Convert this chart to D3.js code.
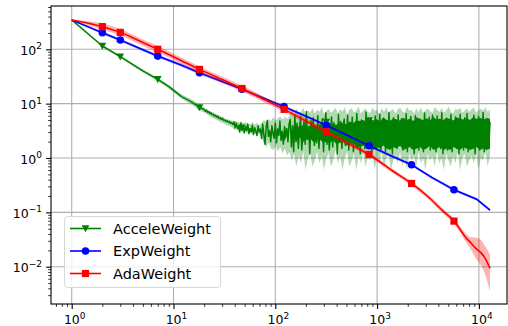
<!DOCTYPE html>
<html>
<head>
<meta charset="utf-8">
<script src="https://cdn.jsdelivr.net/npm/d3@7"></script>
<style>
  body { margin: 0; background: #fff; }
  svg { font-family: "DejaVu Sans", sans-serif; }
</style>
</head>
<body>
<svg id="chart" width="508" height="326"></svg>
<script>
// ---- data ----
const seriesNames = ['AcceleWeight', 'ExpWeight', 'AdaWeight'];
const markX = [2, 3, 7, 18, 47, 122, 317, 833, 2180, 5690];

// ExpWeight
const expX  = [1, 2, 3, 5, 7, 12, 18, 30, 47, 75, 122, 200, 317, 500, 833, 1440, 2180, 3440, 5690, 9500, 12850];
const expY  = [347, 202, 148, 98, 75, 51, 37, 25.5, 18.5, 12.8, 8.8, 5.85, 4.0, 2.65, 1.68, 1.05, 0.75, 0.44, 0.26, 0.175, 0.11];
const expLo = [347, 190, 139, 92, 70, 47.5, 34.5, 24, 17.4, 11.9, 8.3, 5.55, 3.77, 2.5, 1.59, 0.99, 0.71, 0.41, 0.245, 0.165, 0.104];
const expHi = [347, 214, 157, 104, 80, 54.5, 39.5, 27, 19.6, 13.6, 9.3, 6.2, 4.23, 2.8, 1.78, 1.11, 0.79, 0.465, 0.275, 0.185, 0.116];

// AdaWeight
const adaX  = [1, 2, 3, 5, 7, 12, 18, 30, 47, 75, 122, 200, 317, 500, 833, 1440, 2180, 3310, 4470, 5690, 6500, 7400, 8300, 9500, 10500, 11500, 12850];
const adaY  = [347, 261, 205, 133, 100, 61.5, 42.7, 27.7, 19, 12.3, 7.85, 4.8, 3.04, 1.94, 1.16, 0.57, 0.34, 0.18, 0.104, 0.069, 0.049, 0.035, 0.0277, 0.021, 0.018, 0.0144, 0.0093];
const adaLo = [347, 228, 180, 116, 87, 54, 37.5, 24.3, 16.8, 10.9, 7.0, 4.3, 2.75, 1.76, 1.06, 0.52, 0.31, 0.163, 0.094, 0.062, 0.043, 0.029, 0.021, 0.0135, 0.0105, 0.0072, 0.0035];
const adaHi = [347, 298, 234, 152, 115, 70, 48.5, 31.5, 21.5, 13.9, 8.8, 5.4, 3.36, 2.14, 1.27, 0.62, 0.37, 0.198, 0.115, 0.077, 0.056, 0.041, 0.035, 0.034, 0.031, 0.024, 0.017];

// AcceleWeight: smooth head, then a noisy tail sampled evenly on log x
const accHeadX  = [1, 2, 3, 4, 5, 7, 9, 12, 15, 18];
const accHeadY  = [347, 115, 73, 52, 40, 28, 20.5, 13.5, 10.8, 8.5];
const accHeadLo = [347, 110, 69.5, 49, 37.5, 26, 18.8, 12.3, 9.6, 7.4];
const accHeadHi = [347, 120, 76.5, 55, 42.5, 30, 22.2, 14.8, 12, 9.7];
const accTailRange = [20, 12850];
const accTail = [
  7.8,7.2,7.6,6.9,7.1,6.5,6.8,6.2,6.4,5.9,6.1,5.6,5.9,5.3,5.5,5.1,5.4,4.9,5.0,4.7,4.9,4.5,4.7,4.3,4.5,
  4.1,4.6,3.6,4.4,3.5,3.9,3.0,4.4,3.3,3.7,2.9,3.8,3.2,4.2,2.8,3.5,3.0,4.0,2.7,3.6,3.1,2.6,3.9,3.0,3.4,
  2.3,4.2,2.7,1.8,3.6,4.9,2.5,3.2,2.0,3.9,2.8,2.3,4.4,1.9,3.4,2.6,4.8,2.1,3.1,1.8,3.8,2.7,3.5,2.0,4.2,
  5.1,1.6,3.9,1.3,6.2,2.0,4.4,1.5,3.3,5.8,1.4,2.6,4.8,1.8,7.2,2.2,3.7,1.2,4.9,2.4,5.5,1.7,3.1,1.9,6.0,
  1.5,4.2,2.3,5.3,1.3,3.6,6.8,1.8,4.0,1.4,2.7,5.7,1.6,4.5,2.1,3.4,1.2,6.3,2.0,4.7,1.5,3.8,5.2,1.7,2.9,
  6.1,1.4,4.3,1.9,5.6,1.3,3.5,2.2,6.6,1.6,4.1,1.2,5.0,2.0,3.7,1.5,7.0,1.8,4.6,2.4,5.4,1.3,3.2,1.7,5.9,
  1.5,4.4,2.1,6.4,1.4,3.9,1.8,5.1,1.3,4.8,2.3,6.9,1.6,3.6,1.2,5.5,2.0,4.2,1.5,6.2,1.7,3.4,5.3,1.4,4.7,
  1.9,6.5,1.3,4.0,2.2,5.8,1.5,3.7,1.2,6.0,1.8,4.9,1.4,5.2,2.1,3.8,1.3,6.7,1.6,4.3,2.0,5.6,1.4,3.5,6.1,
  1.7,4.6,1.3,5.9,2.2,4.1,1.5,6.8,1.2,3.9,1.9,5.4,1.4,4.5,2.0,6.3,1.3,3.6,1.8,5.7,1.5,4.8,1.2,6.4,2.1,
  3.7,1.4,5.5,1.6,6.6,1.3,4.2,2.0,5.0,1.5,6.1,1.2,3.8,1.8,5.8,1.4,4.4,2.3,6.9,1.3,4.0,1.7,5.3,1.5,4.6
];
// where the tail is so dense it reads as a solid strip: its lower / upper envelope
const accCoreRange = [150, 12850];
const accCoreHi = [
  3.7,4.0,3.6,4.1,3.8,3.9,4.2,3.8,4.0,4.3,4.0,4.4,4.2,4.1,4.6,4.3,4.2,4.7,4.4,4.9,
  4.8,5.0,4.6,5.3,4.9,5.2,4.7,5.6,5.0,4.8,5.4,5.1,4.9,5.5,5.0,5.3,4.8,5.6,5.2,5.0,
  5.4,4.9,5.7,5.1,5.3,5.0,5.5,5.2,4.9,5.6,5.3,5.1,5.4,5.0,5.7,5.2,5.5,5.1,5.4,5.2
];
const accCoreLo = [
  2.3,2.1,2.4,2.0,2.2,2.3,2.0,2.1,2.2,1.9,2.0,1.9,2.1,1.8,1.9,2.0,1.7,1.8,1.9,1.6,
  1.6,1.7,1.5,1.6,1.4,1.6,1.5,1.7,1.5,1.4,1.6,1.5,1.7,1.4,1.5,1.6,1.4,1.5,1.6,1.4,
  1.5,1.7,1.4,1.5,1.6,1.4,1.5,1.4,1.6,1.5,1.4,1.6,1.5,1.4,1.5,1.6,1.4,1.5,1.4,1.5
];
const accBandHi = [
  8.6,8.0,7.6,7.2,6.9,6.5,6.2,5.9,5.6,5.4,5.2,5.0,4.9,
  4.8,4.7,4.5,4.7,4.4,4.6,4.3,4.2,4.6,4.1,4.4,4.0,4.5,
  5.0,4.6,5.3,4.8,5.6,4.9,5.4,5.8,5.1,5.7,5.3,6.0,
  7.4,6.3,8.1,6.7,7.0,8.5,6.2,7.6,6.9,8.3,6.5,7.8,7.1,8.7,6.4,7.3,8.0,6.8,7.5,8.4,
  6.6,7.9,7.2,8.6,6.3,7.7,8.2,6.9,7.4,8.8,6.5,7.6,8.1,7.0,6.7,8.5,7.3,7.8,6.4,8.3,
  7.1,8.6,6.8,7.5,8.0,6.6,7.9,8.4,7.2,6.9,8.7,7.4,7.7,6.5,8.2,7.0,8.5,6.8,7.6,8.1,
  7.3,6.7,8.6,7.8,7.1,8.3,6.9,7.5,8.8,7.2,6.6,8.0,7.7,8.4,6.8,7.4,8.2,7.0,7.9,8.5,
  6.9,7.6,8.1,7.3,8.6,7.0,7.8
];
const accBandLo = [
  6.9,6.4,6.1,5.7,5.4,5.1,4.9,4.6,4.4,4.2,4.0,3.9,3.7,
  3.3,3.4,3.0,3.3,2.9,3.1,2.8,3.0,2.7,2.9,2.6,2.8,2.3,
  1.8,1.6,1.9,1.5,1.4,1.7,1.3,1.6,1.2,1.5,1.1,1.3,
  0.9,1.2,0.7,1.1,0.8,1.3,0.6,1.0,1.2,0.7,0.9,1.3,0.8,1.1,0.6,1.0,1.2,0.7,0.9,1.4,
  0.8,1.1,0.6,1.0,1.3,0.7,0.9,1.2,0.6,1.1,0.8,1.3,0.7,1.0,0.9,1.2,0.6,1.1,0.8,1.3,
  0.7,1.0,1.2,0.6,0.9,1.1,0.8,1.3,0.7,1.0,0.6,1.2,0.9,1.1,0.7,1.3,0.8,1.0,0.6,1.2,
  0.9,1.1,0.7,1.3,0.8,1.0,0.6,1.2,0.9,0.7,1.1,0.8,1.3,0.6,1.0,1.2,0.7,0.9,1.1,0.8,
  1.2,0.6,1.0,0.9,1.3,0.7,1.1
];
const accMarkY = [115, 73, 28, 8.5, 3.6, 2.4, 4.6, 4.9, 3.0, 2.5];

const xMajor = [1, 10, 100, 1000, 10000];
const yMajor = [0.01, 0.1, 1, 10, 100];

// ---- layout ----
const svg = d3.select('#chart');
const pL = 51, pR = 507, pT = 6, pB = 304;

const x = d3.scaleLog().domain([0.626, 18880]).range([pL, pR]);
const y = d3.scaleLog().domain([0.00206, 626]).range([pB, pT]);

// sample positions spaced evenly in log10
function logGrid(range, n) {
  const a = Math.log10(range[0]), b = Math.log10(range[1]);
  return d3.range(n).map(i => Math.pow(10, a + (b - a) * i / (n - 1)));
}

function minorTicks(scale) {
  const [d0, d1] = scale.domain();
  const out = [];
  for (let e = Math.floor(Math.log10(d0)); e <= Math.ceil(Math.log10(d1)); e++) {
    for (let m = 2; m <= 9; m++) {
      const v = m * Math.pow(10, e);
      if (v >= d0 && v <= d1) out.push(v);
    }
  }
  return out;
}

// grid
const grid = svg.append('g').attr('stroke', '#b0b0b0').attr('stroke-width', 1.1);
grid.selectAll('.gx').data(xMajor).join('line')
  .attr('x1', d => x(d)).attr('x2', d => x(d)).attr('y1', pT).attr('y2', pB);
grid.selectAll('.gy').data(yMajor).join('line')
  .attr('y1', d => y(d)).attr('y2', d => y(d)).attr('x1', pL).attr('x2', pR);

svg.append('clipPath').attr('id', 'clip')
  .append('rect').attr('x', pL).attr('y', pT).attr('width', pR - pL).attr('height', pB - pT);
const plot = svg.append('g').attr('clip-path', 'url(#clip)');

const line = d3.line().x(d => x(d[0])).y(d => y(d[1]));
const area = d3.area().x(d => x(d[0])).y0(d => y(d[1])).y1(d => y(d[2]));

const green = '#008000', blue = '#0000ff', red = '#ff0000';

// AcceleWeight
const tailX = logGrid(accTailRange, accTail.length);
const bandX = logGrid(accTailRange, accBandHi.length);
const coreX = logGrid(accCoreRange, accCoreHi.length);
const accBand = accHeadX.map((v, i) => [v, accHeadLo[i], accHeadHi[i]])
  .concat(bandX.map((v, i) => [v, accBandLo[i], accBandHi[i]]));
const accLine = accHeadX.map((v, i) => [v, accHeadY[i]])
  .concat(tailX.map((v, i) => [v, accTail[i]]));

plot.append('path').attr('d', area(accBand)).attr('fill', green).attr('fill-opacity', 0.3);
plot.append('path').attr('d', area(coreX.map((v, i) => [v, accCoreLo[i], accCoreHi[i]])))
  .attr('fill', green);
plot.append('path').attr('d', line(accLine)).attr('fill', 'none')
  .attr('stroke', green).attr('stroke-width', 1.5).attr('stroke-linejoin', 'round');

// ExpWeight
plot.append('path').attr('d', area(expX.map((v, i) => [v, expLo[i], expHi[i]])))
  .attr('fill', blue).attr('fill-opacity', 0.3);
plot.append('path').attr('d', line(expX.map((v, i) => [v, expY[i]]))).attr('fill', 'none')
  .attr('stroke', blue).attr('stroke-width', 1.6);

// AdaWeight
const adaCurve = d3.line().curve(d3.curveMonotoneX).x(d => x(d[0])).y(d => y(d[1]));
plot.append('path').attr('d', area.curve(d3.curveMonotoneX)(adaX.map((v, i) => [v, adaLo[i], adaHi[i]])))
  .attr('fill', red).attr('fill-opacity', 0.3);
plot.append('path').attr('d', adaCurve(adaX.map((v, i) => [v, adaY[i]]))).attr('fill', 'none')
  .attr('stroke', red).attr('stroke-width', 1.6);

// markers
const triDown = 'M-3.8,-3.3L3.8,-3.3L0,3.8Z';
plot.selectAll('.mk-acc').data(markX.map((v, i) => [v, accMarkY[i]])).join('path')
  .attr('d', triDown).attr('fill', green)
  .attr('transform', d => `translate(${x(d[0])},${y(d[1])})`);
plot.selectAll('.mk-exp').data(expX.map((v, i) => [v, expY[i]]).filter(d => markX.includes(d[0]))).join('circle')
  .attr('cx', d => x(d[0])).attr('cy', d => y(d[1])).attr('r', 3.8).attr('fill', blue);
plot.selectAll('.mk-ada').data(adaX.map((v, i) => [v, adaY[i]]).filter(d => markX.includes(d[0]))).join('rect')
  .attr('x', d => x(d[0]) - 3.6).attr('y', d => y(d[1]) - 3.6).attr('width', 7.2).attr('height', 7.2).attr('fill', red);

// spines
svg.append('rect').attr('x', pL).attr('y', pT).attr('width', pR - pL).attr('height', pB - pT)
  .attr('fill', 'none').attr('stroke', '#000').attr('stroke-width', 1.1);

// ticks
function ticks(axis, g) {
  g.call(axis);
  g.select('.domain').remove();
  g.selectAll('text').remove();
}
ticks(d3.axisBottom(x).tickValues(xMajor).tickSize(4.9).tickFormat(''),
  svg.append('g').attr('transform', `translate(0,${pB})`).attr('stroke-width', 1.1));
ticks(d3.axisBottom(x).tickValues(minorTicks(x)).tickSize(2.8).tickFormat(''),
  svg.append('g').attr('transform', `translate(0,${pB})`).attr('stroke-width', 0.8));
ticks(d3.axisLeft(y).tickValues(yMajor).tickSize(4.9).tickFormat(''),
  svg.append('g').attr('transform', `translate(${pL},0)`).attr('stroke-width', 1.1));
ticks(d3.axisLeft(y).tickValues(minorTicks(y)).tickSize(2.8).tickFormat(''),
  svg.append('g').attr('transform', `translate(${pL},0)`).attr('stroke-width', 0.8));

function powLabel(sel, v) {
  const e = Math.round(Math.log10(v));
  sel.append('tspan').text('10');
  sel.append('tspan').attr('font-size', 9).attr('dy', -5.5).text(e < 0 ? '\u2212' + (-e) : String(e));
}
xMajor.forEach(v => {
  svg.append('text').attr('x', x(v) + 3).attr('y', 324).attr('text-anchor', 'middle')
    .attr('font-size', 12.5).attr('fill', '#000').call(powLabel, v);
});
yMajor.forEach(v => {
  svg.append('text').attr('x', 42).attr('y', y(v) + 5.5).attr('text-anchor', 'end')
    .attr('font-size', 12.5).attr('fill', '#000').call(powLabel, v);
});

// legend
const lg = svg.append('g');
lg.append('rect').attr('x', 64.5).attr('y', 216.5).attr('width', 156).attr('height', 71).attr('rx', 3)
  .attr('fill', '#fff').attr('fill-opacity', 0.8).attr('stroke', '#d6d6d6').attr('stroke-width', 1);
const colors = [green, blue, red];
seriesNames.forEach((name, i) => {
  const yy = 228.5 + i * 22.5;
  lg.append('line').attr('x1', 70).attr('x2', 101).attr('y1', yy).attr('y2', yy)
    .attr('stroke', colors[i]).attr('stroke-width', 1.6);
  if (i === 0) lg.append('path').attr('d', triDown).attr('fill', green).attr('transform', `translate(85.5,${yy})`);
  if (i === 1) lg.append('circle').attr('cx', 85.5).attr('cy', yy).attr('r', 3.8).attr('fill', blue);
  if (i === 2) lg.append('rect').attr('x', 85.5 - 3.6).attr('y', yy - 3.6).attr('width', 7.2).attr('height', 7.2).attr('fill', red);
  lg.append('text').attr('x', 113).attr('y', yy + 5.3).attr('font-size', 14.5).attr('fill', '#000').text(name);
});
</script>
</body>
</html>
